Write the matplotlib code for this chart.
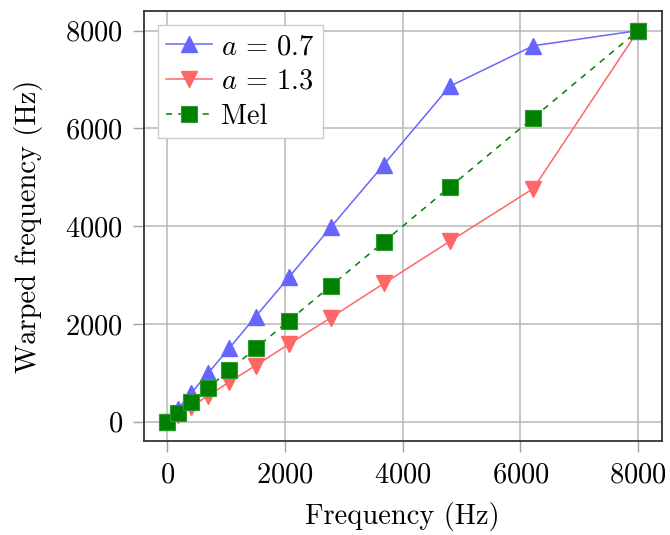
import matplotlib
matplotlib.use("Agg")
import matplotlib.pyplot as plt

plt.rcParams['font.family'] = ['cmr10', 'DejaVu Serif']
plt.rcParams['mathtext.fontset'] = 'cm'
plt.rcParams['axes.formatter.use_mathtext'] = True

# values
freq = [0, 180, 410, 690, 1050, 1500, 2070, 2780, 3680, 4800, 6220, 8000]
warp_07 = [0, 260, 590, 990, 1500, 2150, 2960, 3980, 5260, 6860, 7690, 8000]
warp_13 = [0, 140, 310, 530, 810, 1150, 1590, 2130, 2830, 3690, 4770, 8000]
mel = [0, 180, 410, 690, 1050, 1500, 2070, 2780, 3680, 4800, 6220, 8000]

xticks = [0, 2000, 4000, 6000, 8000]
yticks = [0, 2000, 4000, 6000, 8000]

blue = '#6666ff'
red = '#ff6666'
green = '#008000'
gridc = '#b8b8b8'

fig = plt.figure(figsize=(6.7, 5.35), dpi=100)
ax = fig.add_axes([0.2145, 0.1751, 0.7731, 0.8043])

ax.plot(freq, warp_07, color=blue, lw=1.1, marker='^', ms=11,
        mec=blue, mfc=blue, label=r'$a\,=\,0.7$', zorder=3)
ax.plot(freq, warp_13, color=red, lw=1.1, marker='v', ms=11,
        mec=red, mfc=red, label=r'$a\,=\,1.3$', zorder=3)
ax.plot(freq, mel, color=green, lw=1.1, ls=(0, (4, 4)), marker='s', ms=12,
        mec='#2e9a2e', mew=0.8, mfc=green, label='Mel', zorder=4)

ax.set_xlim(-400, 8400)
ax.set_ylim(-400, 8400)
ax.set_xticks(xticks)
ax.set_yticks(yticks)
ax.grid(True, color=gridc, lw=1.1)
ax.set_axisbelow(True)
ax.tick_params(direction='out', length=7.9, width=1.0, color='#a0a0a0',
               labelsize=20.5, pad=7)
for s in ax.spines.values():
    s.set_linewidth(1.3)
    s.set_color('#333333')

ax.set_xlabel('Frequency (Hz)', fontsize=20.5, labelpad=10)
ax.set_ylabel('Warped frequency (Hz)', fontsize=20.5, labelpad=16)

leg = ax.legend(loc='upper left', fontsize=20.5, fancybox=False, framealpha=1,
                edgecolor='#cccccc', handlelength=1.6, handletextpad=0.3,
                borderpad=0.3, labelspacing=0.3, borderaxespad=0.5)
leg.get_frame().set_linewidth(1.0)

fig.savefig('out.png', dpi=100)
